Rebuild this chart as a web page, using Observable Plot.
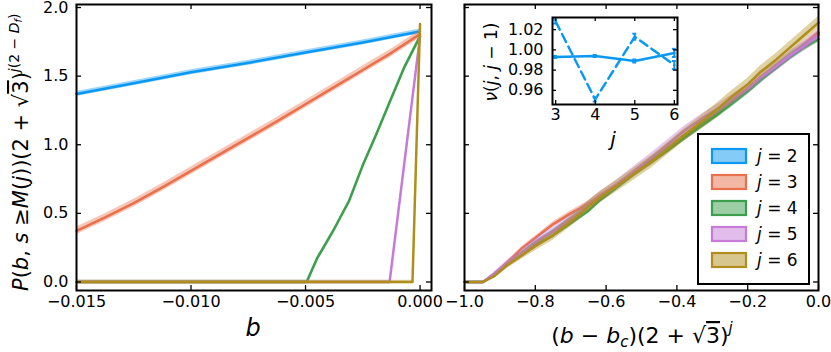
<!DOCTYPE html>
<html><head><meta charset="utf-8">
<script src="https://cdn.jsdelivr.net/npm/d3@7"></script>
<script src="https://cdn.jsdelivr.net/npm/@observablehq/plot@0.6"></script>
<style>
html,body{margin:0;padding:0;background:#fff;}
#wrap{position:relative;width:831px;height:352px;font-family:"DejaVu Sans";overflow:hidden;}
#wrap svg{position:absolute;left:0;top:0;}
</style>
</head><body><div id="wrap"></div>
<script>
// ---------------- data ----------------
const seriesLabels = ["2", "3", "4", "5", "6"];
const seriesColors = ["#0b98f2", "#e8704c", "#3b9f4b", "#c67bd8", "#b08e1d"];

// left panel: b vs P(b, s >= M(j)) (2+sqrt3)^{j(2-Df)}
const leftX_j2 = [-0.015, -0.0125, -0.010, -0.0074, -0.005, -0.0025, 0];
const leftY_j2 = [1.37, 1.448, 1.528, 1.60, 1.672, 1.745, 1.826];
const leftX_j3 = [-0.015, -0.01375, -0.0125, -0.01125, -0.010, -0.00875, -0.0075, -0.00625, -0.005, -0.00375, -0.0025, -0.00125, 0];
const leftY_j3 = [0.372, 0.47, 0.575, 0.69, 0.81, 0.93, 1.05, 1.17, 1.295, 1.42, 1.545, 1.67, 1.806];
const leftX_j4 = [-0.015, -0.00495, -0.0045, -0.0038, -0.0031, -0.0025, -0.0019, -0.0013, -0.0007, 0];
const leftY_j4 = [0, 0, 0.17, 0.37, 0.59, 0.85, 1.08, 1.32, 1.56, 1.79];
const leftX_j5 = [-0.015, -0.00133, 0];
const leftY_j5 = [0, 0, 1.79];
const leftX_j6 = [-0.015, -0.00033, 0];
const leftY_j6 = [0, 0, 1.88];
const leftErr = [0.018, 0.028, 0.012, 0.012, 0.012];

// right panel: rescaled (b - bc)(2+sqrt3)^j
const rightX = [-1.0, -0.948, -0.917, -0.88, -0.84, -0.8, -0.75, -0.7, -0.65, -0.616, -0.57, -0.52, -0.47, -0.427, -0.38, -0.33, -0.286, -0.25, -0.2, -0.164, -0.12, -0.08, -0.04, 0];
const rightY_j2 = [0, 0, 0.05, 0.13, 0.21, 0.29, 0.37, 0.46, 0.55, 0.62, 0.70, 0.80, 0.89, 0.97, 1.06, 1.15, 1.23, 1.30, 1.40, 1.48, 1.57, 1.65, 1.73, 1.81];
const rightY_j3 = [0, 0, 0.05, 0.14, 0.24, 0.32, 0.42, 0.50, 0.57, 0.63, 0.70, 0.79, 0.88, 0.96, 1.05, 1.14, 1.22, 1.30, 1.40, 1.48, 1.57, 1.65, 1.73, 1.82];
const rightY_j4 = [0, 0, 0.05, 0.13, 0.20, 0.27, 0.34, 0.43, 0.52, 0.60, 0.69, 0.79, 0.88, 0.96, 1.05, 1.14, 1.22, 1.29, 1.39, 1.47, 1.56, 1.64, 1.71, 1.77];
const rightY_j5 = [0, 0, 0.06, 0.14, 0.21, 0.29, 0.37, 0.46, 0.56, 0.63, 0.71, 0.81, 0.91, 1.00, 1.10, 1.19, 1.26, 1.32, 1.41, 1.49, 1.57, 1.65, 1.72, 1.80];
const rightY_j6 = [0, 0, 0.04, 0.12, 0.19, 0.26, 0.34, 0.44, 0.55, 0.62, 0.70, 0.79, 0.88, 0.97, 1.07, 1.17, 1.26, 1.34, 1.44, 1.53, 1.62, 1.71, 1.80, 1.89];
const rightErr = [0.015, 0.022, 0.025, 0.035, 0.045];
// relative size of the uncertainty band along x
const rightErrScale = [0, 0, 0.3, 0.5, 0.6, 0.7, 0.8, 0.85, 0.9, 0.9, 0.95, 1, 1, 1, 1, 1, 1, 1, 1, 1, 1, 1, 1, 1];

// inset: nu(j, j-1)
const insetJ = [3, 4, 5, 6];
const nuSolid = [0.993, 0.994, 0.989, 0.997];
const nuSolidErr = [0.001, 0.001, 0.0015, 0.004];
const nuDashed = [1.028, 0.951, 1.013, 0.985];
const nuDashedErr = [0.002, 0.002, 0.003, 0.004];

// ticks
const leftXTicks = [-0.015, -0.010, -0.005, 0.000];
const rightXTicks = [-1.0, -0.8, -0.6, -0.4, -0.2, 0.0];
const yTicks = [0.0, 0.5, 1.0, 1.5, 2.0];
const insetXTicks = [3, 4, 5, 6];
const insetYTicks = [0.96, 0.98, 1.00, 1.02];

// ---------------- helpers ----------------
const W = 831, H = 352;
const wrap = document.getElementById("wrap");
const baseStyle = {fontFamily: "DejaVu Sans", fontSize: "16px", background: "transparent", color: "black", overflow: "visible"};

function rows(xs, ys, err, scale) {
  return xs.map((x, i) => {
    const e = err * (scale ? scale[i] : 1);
    return {x, y: ys[i], lo: ys[i] - e, hi: ys[i] + e};
  });
}
function seriesMarks(data, color) {
  return [
    Plot.areaY(data, {x: "x", y1: "lo", y2: "hi", fill: color, fillOpacity: 0.4, curve: "linear"}),
    Plot.line(data, {x: "x", y: "y", stroke: color, strokeWidth: 2.5, strokeLinejoin: "round"})
  ];
}
function inwardTicks(xt, yt, fw, fh, len) {
  const s = {stroke: "black", strokeWidth: 1.3};
  return [
    Plot.ruleX(xt, {x: d => d, insetTop: fh - len, ...s}),
    Plot.ruleX(xt, {x: d => d, insetBottom: fh - len, ...s}),
    Plot.ruleY(yt, {y: d => d, insetRight: fw - len, ...s}),
    Plot.ruleY(yt, {y: d => d, insetLeft: fw - len, ...s})
  ];
}

// ---------------- left panel ----------------
const L = {l: 76, r: 431, t: 4, b: 290};
const leftSets = [
  rows(leftX_j2, leftY_j2, leftErr[0]),
  rows(leftX_j3, leftY_j3, leftErr[1]),
  rows(leftX_j4, leftY_j4, leftErr[2]),
  rows(leftX_j5, leftY_j5, leftErr[3]),
  rows(leftX_j6, leftY_j6, leftErr[4])
];
const leftPlot = Plot.plot({
  width: W, height: H,
  marginLeft: L.l, marginRight: W - L.r, marginTop: L.t, marginBottom: H - L.b,
  x: {domain: [-0.015, 0.0005]},
  y: {domain: [-0.062, 2.022]},
  style: baseStyle,
  marks: [
    ...leftSets.flatMap((d, i) => seriesMarks(d, seriesColors[i])),
    Plot.axisX({ticks: leftXTicks, tickSize: 0, tickPadding: 5, tickFormat: d3.format(".3f"), label: null}),
    Plot.axisY({ticks: yTicks, tickSize: 0, tickPadding: 8, tickFormat: d3.format(".1f"), label: null}),
    ...inwardTicks(leftXTicks, yTicks, L.r - L.l, L.b - L.t, 5),
    Plot.frame({stroke: "black", strokeWidth: 2})
  ]
});
wrap.appendChild(leftPlot);

// ---------------- right panel ----------------
const R = {l: 464, r: 818, t: 4, b: 290};
const rightSets = [rightY_j2, rightY_j3, rightY_j4, rightY_j5, rightY_j6].map((ys, i) => rows(rightX, ys, rightErr[i], rightErrScale));
const rightPlot = Plot.plot({
  width: W, height: H,
  marginLeft: R.l, marginRight: W - R.r, marginTop: R.t, marginBottom: H - R.b,
  x: {domain: [-1.0, 0.0]},
  y: {domain: [-0.062, 2.022], axis: null},
  style: baseStyle,
  marks: [
    ...rightSets.flatMap((d, i) => seriesMarks(d, seriesColors[i])),
    Plot.axisX({ticks: rightXTicks, tickSize: 0, tickPadding: 5, tickFormat: d3.format(".1f"), label: null}),
    ...inwardTicks(rightXTicks, yTicks, R.r - R.l, R.b - R.t, 5),
    Plot.frame({stroke: "black", strokeWidth: 2})
  ]
});
wrap.appendChild(rightPlot);

// ---------------- inset ----------------
const I = {l: 552, r: 677, t: 17, b: 104};
const solid = insetJ.map((j, i) => ({j, v: nuSolid[i], lo: nuSolid[i] - nuSolidErr[i], hi: nuSolid[i] + nuSolidErr[i]}));
const dashed = insetJ.map((j, i) => ({j, v: nuDashed[i], lo: nuDashed[i] - nuDashedErr[i], hi: nuDashed[i] + nuDashedErr[i]}));
const blue = seriesColors[0];
const capHalf = 0.05;
function errMarks(data) {
  return [
    Plot.ruleX(data, {x: "j", y1: "lo", y2: "hi", stroke: blue, strokeWidth: 2, clip: true}),
    Plot.ruleY(data, {y: "lo", x1: d => d.j - capHalf, x2: d => d.j + capHalf, stroke: blue, strokeWidth: 2, clip: true}),
    Plot.ruleY(data, {y: "hi", x1: d => d.j - capHalf, x2: d => d.j + capHalf, stroke: blue, strokeWidth: 2, clip: true})
  ];
}
const insetPlot = Plot.plot({
  width: W, height: H,
  marginLeft: I.l, marginRight: W - I.r, marginTop: I.t, marginBottom: H - I.b,
  x: {domain: [2.92, 6.08]},
  y: {domain: [0.946, 1.032]},
  style: baseStyle,
  marks: [
    Plot.frame({fill: "white"}),
    Plot.line(solid, {x: "j", y: "v", stroke: blue, strokeWidth: 2.5, clip: true}),
    Plot.line(dashed, {x: "j", y: "v", stroke: blue, strokeWidth: 2.5, strokeDasharray: "9,5", clip: true}),
    ...errMarks(solid),
    ...errMarks(dashed),
    Plot.axisX({ticks: insetXTicks, tickSize: 0, tickPadding: 4, tickFormat: d3.format("d"), label: null}),
    Plot.axisY({ticks: insetYTicks, tickSize: 0, tickPadding: 9, tickFormat: d3.format(".2f"), label: null}),
    ...inwardTicks(insetXTicks, insetYTicks, I.r - I.l, I.b - I.t, 4),
    Plot.frame({stroke: "black", strokeWidth: 2})
  ]
});
wrap.appendChild(insetPlot);

// ---------------- labels & legend overlay ----------------
const ov = d3.select(wrap).append("svg").attr("width", W).attr("height", H)
  .style("font-family", "DejaVu Sans").style("overflow", "visible");

function addParts(textSel, parts) {
  parts.forEach(p => {
    const t = textSel.append("tspan").text(p.t);
    if (p.i) t.attr("font-style", "italic");
    if (p.fs) t.attr("font-size", p.fs);
    if (p.dy) t.attr("dy", p.dy);
    if (p.o) t.style("text-decoration", "overline");
  });
}

// left y label
const ylab = ov.append("text").attr("transform", "translate(28,291) rotate(-90)")
  .attr("font-size", 21).attr("text-anchor", "start");
addParts(ylab, [
  {t: "P", i: 1}, {t: "("}, {t: "b", i: 1}, {t: ", "}, {t: "s", i: 1}, {t: " ≥"}, {t: "M", i: 1},
  {t: "("}, {t: "j", i: 1}, {t: "))(2 + √"}, {t: "3", o: 1}, {t: ")"},
  {t: "j", i: 1, fs: 14, dy: -9}, {t: "(2 − ", fs: 14}, {t: "D", i: 1, fs: 14}, {t: "f", i: 1, fs: 10, dy: 3},
  {t: ")", fs: 14, dy: -3}
]);

// left x label
ov.append("text").attr("x", 253).attr("y", 336).attr("text-anchor", "middle")
  .attr("font-size", 24).attr("font-style", "italic").text("b");

// right x label
const xlab = ov.append("text").attr("x", 642).attr("y", 343).attr("text-anchor", "middle").attr("font-size", 22);
addParts(xlab, [
  {t: "("}, {t: "b", i: 1}, {t: " − "}, {t: "b", i: 1}, {t: "c", i: 1, fs: 15, dy: 4},
  {t: ")(2 + √", dy: -4}, {t: "3", o: 1}, {t: ")"}, {t: "j", i: 1, fs: 15, dy: -10}
]);

// inset y label
const nlab = ov.append("text").attr("transform", "translate(497,62) rotate(-90)")
  .attr("text-anchor", "middle").attr("font-size", 17);
addParts(nlab, [{t: "ν", i: 1}, {t: "("}, {t: "j", i: 1}, {t: ", "}, {t: "j", i: 1}, {t: " − 1)"}]);

// inset x label
ov.append("text").attr("x", 613).attr("y", 146).attr("text-anchor", "middle")
  .attr("font-size", 20).attr("font-style", "italic").text("j");

// legend
const lg = ov.append("g");
lg.append("rect").attr("x", 698).attr("y", 134).attr("width", 111).attr("height", 150)
  .attr("fill", "white").attr("stroke", "black").attr("stroke-width", 2);
seriesLabels.forEach((lab, i) => {
  const y0 = 149 + i * 26;
  lg.append("rect").attr("x", 712).attr("y", y0).attr("width", 34).attr("height", 14)
    .attr("fill", seriesColors[i]).attr("fill-opacity", 0.5)
    .attr("stroke", seriesColors[i]).attr("stroke-width", 2.2);
  const t = lg.append("text").attr("x", 757).attr("y", y0 + 13).attr("font-size", 17);
  addParts(t, [{t: "j", i: 1}, {t: " = " + lab}]);
});
</script>
</body></html>
